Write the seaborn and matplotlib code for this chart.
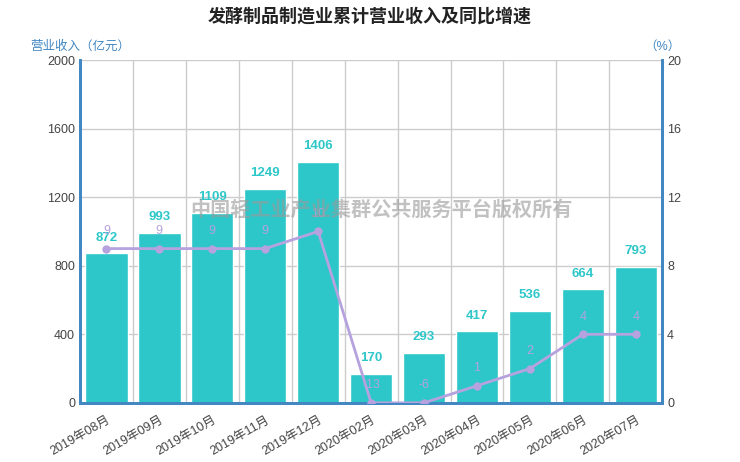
import numpy as np
import pandas as pd
import matplotlib
matplotlib.use("Agg")
import matplotlib.pyplot as plt
import seaborn as sns

months = ["2019年08月", "2019年09月", "2019年10月", "2019年11月", "2019年12月",
          "2020年02月", "2020年03月", "2020年04月", "2020年05月", "2020年06月", "2020年07月"]
revenue = [872, 993, 1109, 1249, 1406, 170, 293, 417, 536, 664, 793]
growth = [9, 9, 9, 9, 10, -13, -6, 1, 2, 4, 4]

sns.set_style("white")
plt.rcParams['font.family'] = ['Liberation Sans', 'Noto Sans CJK SC', 'DejaVu Sans']

bar_color = "#2ec7c9"
line_color = "#b6a2de"
axis_color = "#4187c2"

df = pd.DataFrame({"month": months, "revenue": revenue, "growth": growth})
df["pos"] = range(len(df))
# the right axis starts at 0, so negative growth sits on the floor
df["growth_shown"] = df["growth"].clip(lower=0)

fig = plt.figure(figsize=(7.4, 4.62), dpi=100)
ax = fig.add_axes([0.108, 0.128, 0.787, 0.742])

sns.barplot(data=df, x="pos", y="revenue", color=bar_color, width=0.8,
            saturation=1, ax=ax, zorder=2)
ax.set_ylim(0, 2000)
ax.set_yticks(np.arange(0, 2001, 400))
ax.set_xlim(-0.5, len(df) - 0.5)
ax.set_xticks(df["pos"])
ax.set_xticklabels(months, rotation=30, ha="right", rotation_mode="anchor",
                   color="#444444", fontsize=9)
ax.set_xticks(np.arange(-0.5, len(df), 1), minor=True)
ax.tick_params(axis="x", which="major", length=0, pad=8)
ax.tick_params(axis="x", which="minor", length=4, color="#333333")
ax.tick_params(axis="y", length=0, labelsize=9, labelcolor="#444444")
ax.grid(True, which="minor", axis="x", color="#cccccc", lw=1, zorder=0)
ax.grid(True, which="major", axis="y", color="#cccccc", lw=1, zorder=0)
ax.set_axisbelow(True)
ax.set_xlabel("")
ax.set_ylabel("")

for sp in ["left", "right", "bottom"]:
    ax.spines[sp].set_color(axis_color)
    ax.spines[sp].set_linewidth(2)
ax.spines["top"].set_visible(False)

for p, v in zip(df["pos"], df["revenue"]):
    ax.annotate(str(v), (p, v), xytext=(0, 9), textcoords="offset points",
                ha="center", va="baseline", color=bar_color, fontsize=9.5,
                fontweight="bold", zorder=5)

ax2 = ax.twinx()
sns.lineplot(data=df, x="pos", y="growth_shown", color=line_color, lw=2,
             marker="o", markersize=6, markeredgewidth=0, ax=ax2, zorder=4)
ax2.set_ylim(0, 20)
ax2.set_yticks(np.arange(0, 21, 4))
ax2.tick_params(axis="y", length=0, labelsize=9, labelcolor="#444444")
ax2.set_xlabel("")
ax2.set_ylabel("")
for sp in ["left", "right", "bottom"]:
    ax2.spines[sp].set_color(axis_color)
    ax2.spines[sp].set_linewidth(2)
ax2.spines["top"].set_visible(False)

for p, v, s in zip(df["pos"], df["growth"], df["growth_shown"]):
    ax2.annotate(str(v), (p, s), xytext=(0, 10.5), textcoords="offset points",
                 ha="center", va="baseline", color=line_color, fontsize=9, zorder=6)

fig.text(0.108, 0.885, "营业收入（亿元）", color=axis_color, fontsize=9,
         ha="center", va="bottom")
fig.text(0.895, 0.885, "（%）", color=axis_color, fontsize=9,
         ha="center", va="bottom")
fig.text(0.5, 0.965, "发酵制品制造业累计营业收入及同比增速", fontsize=13,
         fontweight="bold", color="#222222", ha="center", va="center",
         family=['Noto Sans CJK SC', 'DejaVu Sans'])
fig.text(0.515, 0.548, "中国轻工业产业集群公共服务平台版权所有", fontsize=14.5,
         fontweight="bold", color="#999999", alpha=0.6, ha="center", va="center",
         zorder=10, family=['Noto Sans CJK SC', 'DejaVu Sans'])

fig.savefig("out.png", dpi=100)
